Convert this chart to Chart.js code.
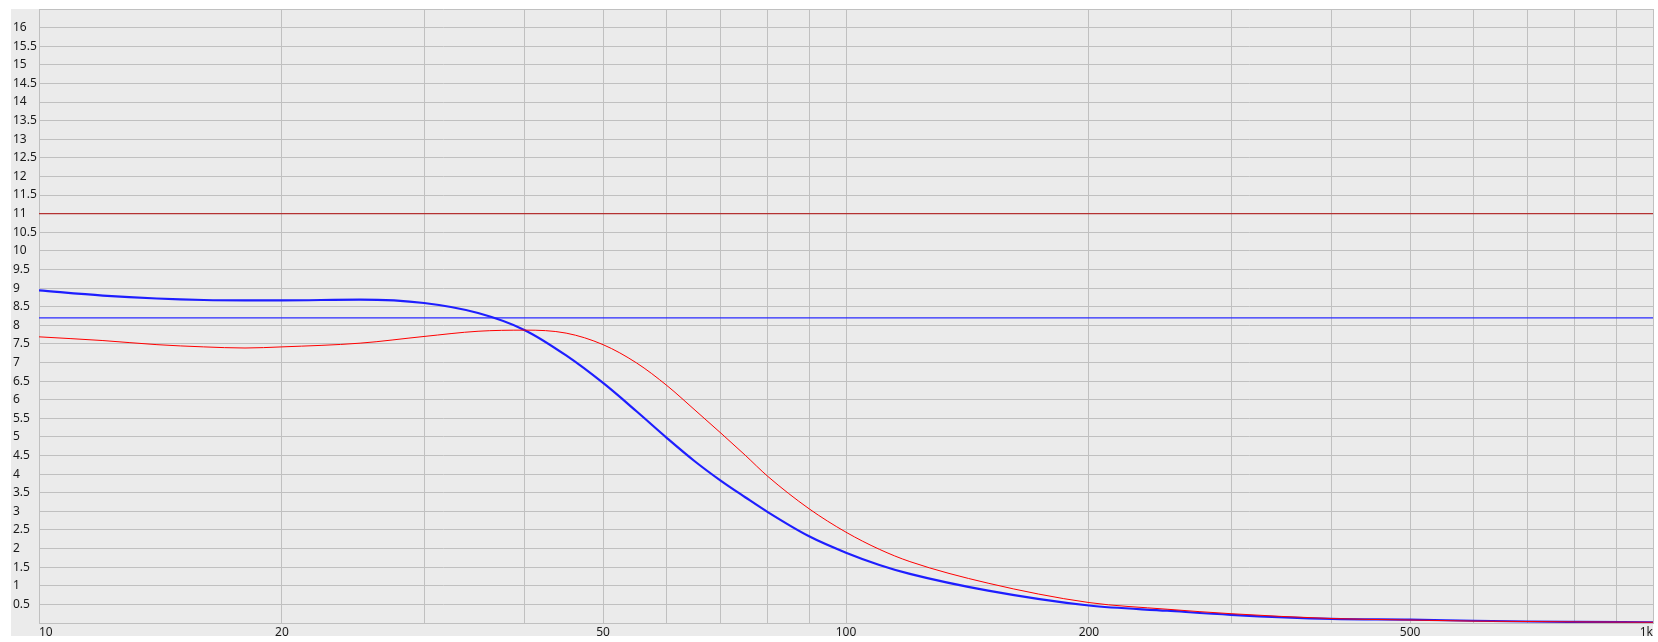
<!DOCTYPE html>
<html>
<head>
<meta charset="utf-8">
<script src="https://cdn.jsdelivr.net/npm/chart.js@4"></script>
<style>
  body { margin: 0; background: #ffffff; }
  #wrap { position: relative; width: 1658px; height: 642px; }
</style>
</head>
<body>
<div id="wrap"><canvas id="chart"></canvas></div>
<script>
// frequencies (Hz) the curves were read at
var freqs = [10, 12, 14, 16, 18, 20, 25, 30, 35, 40, 45, 50, 55, 60, 65, 70, 75, 80, 90,
  100, 110, 120, 150, 200, 250, 300, 400, 500, 600, 700, 800, 1000];

// blue curve (thick)
var blueVals = [8.94, 8.80, 8.72, 8.68, 8.67, 8.67, 8.69, 8.60, 8.33, 7.87, 7.19, 6.45, 5.69, 4.97, 4.34, 3.82, 3.38, 2.98, 2.33,
  1.89, 1.56, 1.32, 0.87, 0.47, 0.33, 0.22, 0.11, 0.09, 0.06, 0.04, 0.03, 0.02];

// red curve (thin)
var redVals = [7.69, 7.59, 7.48, 7.42, 7.39, 7.42, 7.52, 7.70, 7.84, 7.87, 7.79, 7.48, 6.99, 6.38, 5.72, 5.10, 4.51, 3.94, 3.07,
  2.44, 1.98, 1.65, 1.07, 0.55, 0.37, 0.25, 0.12, 0.08, 0.05, 0.04, 0.03, 0.02];

// horizontal reference levels
var redLevel = 11;
var blueLevel = 8.2;

// x grid positions and the labels shown on some of them
var xGridValues = [10, 20, 30, 40, 50, 60, 70, 80, 90, 100, 200, 300, 400, 500, 600, 700, 800, 900, 1000];
var xLabelValues = [10, 20, 50, 100, 200, 500, 1000];
var xLabelTexts = ["10", "20", "50", "100", "200", "500", "1k"];

var yMin = 0;
var yMax = 16.5;
var yStep = 0.5;

function toPoints(xs, ys) {
  return xs.map(function (x, i) { return { x: x, y: ys[i] }; });
}

function levelLine(v) {
  return [{ x: xGridValues[0], y: v }, { x: xGridValues[xGridValues.length - 1], y: v }];
}

// grey panel behind the plot and the axis labels
var panelBackground = {
  id: "panelBackground",
  beforeDraw: function (chart) {
    var ctx = chart.ctx;
    ctx.save();
    ctx.fillStyle = "#ebebeb";
    ctx.fillRect(11, chart.chartArea.top, chart.chartArea.right - 11, 636 - chart.chartArea.top);
    ctx.restore();
  }
};

var gridColor = "#c0c0c0";
var tickFont = { family: "'Noto Sans', 'DejaVu Sans', sans-serif", size: 12 };

new Chart(document.getElementById("chart"), {
  type: "line",
  data: {
    datasets: [
      {
        label: "red",
        data: toPoints(freqs, redVals),
        borderColor: "#ff0000",
        borderWidth: 1,
        pointRadius: 0,
        cubicInterpolationMode: "monotone"
      },
      {
        label: "blue",
        data: toPoints(freqs, blueVals),
        borderColor: "#1e1eff",
        borderWidth: 2.2,
        pointRadius: 0,
        cubicInterpolationMode: "monotone"
      },
      {
        label: "red level",
        data: levelLine(redLevel),
        borderColor: "#b43232",
        borderWidth: 1.2,
        pointRadius: 0
      },
      {
        label: "blue level",
        data: levelLine(blueLevel),
        borderColor: "#2a2aff",
        borderWidth: 1.2,
        pointRadius: 0
      }
    ]
  },
  options: {
    responsive: true,
    maintainAspectRatio: false,
    animation: false,
    layout: { padding: { left: 13, top: 9, right: 5, bottom: 6 } },
    plugins: {
      legend: { display: false },
      tooltip: { enabled: false }
    },
    scales: {
      x: {
        type: "logarithmic",
        min: 10,
        max: 1000,
        afterBuildTicks: function (scale) {
          scale.ticks = xGridValues.map(function (v) { return { value: v }; });
        },
        afterFit: function (scale) { scale.height = 13; },
        grid: { color: gridColor, lineWidth: 1, drawTicks: false },
        border: { color: gridColor, width: 1 },
        ticks: {
          autoSkip: false,
          maxRotation: 0,
          align: "inner",
          padding: 2,
          color: "#1a1a1a",
          font: tickFont,
          callback: function (value) {
            var i = xLabelValues.indexOf(value);
            return i >= 0 ? xLabelTexts[i] : "";
          }
        }
      },
      y: {
        min: yMin,
        max: yMax,
        afterFit: function (scale) { scale.width = 26; },
        grid: { color: gridColor, lineWidth: 1, drawTicks: false },
        border: { color: gridColor, width: 1 },
        ticks: {
          stepSize: yStep,
          crossAlign: "far",
          padding: 0,
          color: "#1a1a1a",
          font: tickFont,
          callback: function (value) {
            if (value <= yMin || value >= yMax) return "";
            return String(value);
          }
        }
      }
    }
  },
  plugins: [panelBackground]
});
</script>
</body>
</html>
